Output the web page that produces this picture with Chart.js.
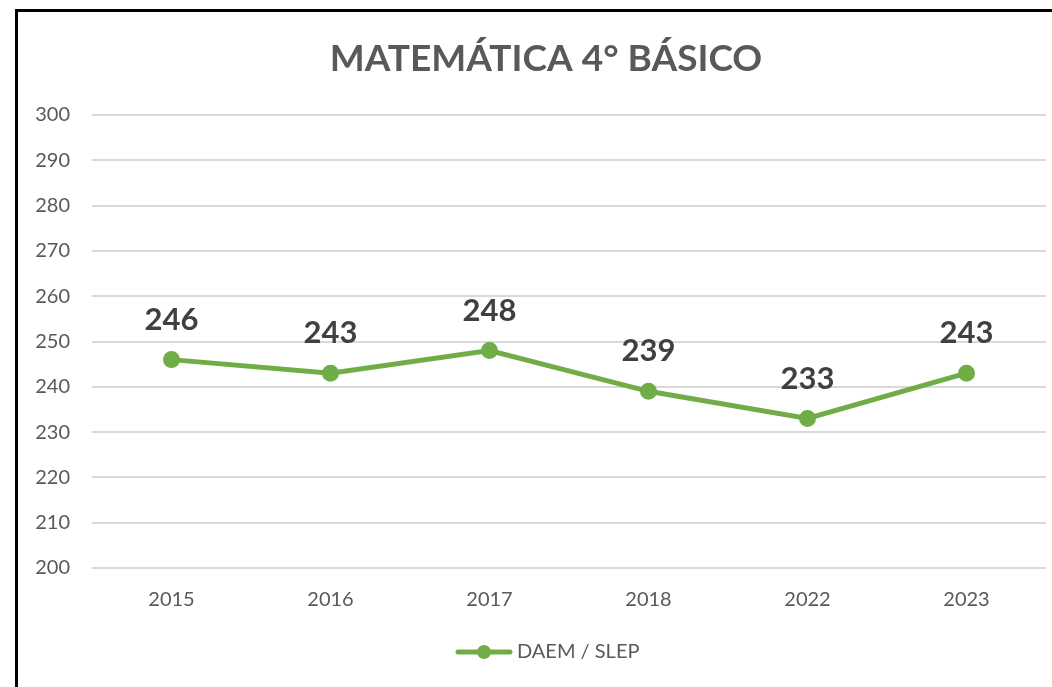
<!DOCTYPE html>
<html>
<head>
<meta charset="utf-8">
<script src="https://cdn.jsdelivr.net/npm/chart.js@4.4.1/dist/chart.umd.min.js"></script>
<style>
  body { margin: 0; background: #ffffff; }
  #wrap { position: absolute; left: 0; top: 0; width: 1052px; height: 687px; }
  #frame {
    position: absolute; left: 15px; top: 9px; width: 1100px; height: 700px;
    border-left: 3px solid #000; border-top: 3px solid #000;
  }
</style>
</head>
<body>
<div id="wrap">
  <div id="frame"></div>
  <canvas id="mathChart" width="1052" height="687"></canvas>
</div>
<script>
/* ==========================================
   DATA
========================================== */

const years = ["2015", "2016", "2017", "2018", "2022", "2023"];
const scores = [246, 243, 248, 239, 233, 243];
const seriesName = "DAEM / SLEP";
const chartTitle = "MATEMÁTICA 4° BÁSICO";

const green = "#70ad47";
const grey = "#595959";
const fontName = "Lato, 'Open Sans', sans-serif";


/* ==========================================
   TITLE, VALUE LABELS AND LEGEND
   (drawn by hand so they sit where the original does)
========================================== */

const extras = {
    id: "extras",
    afterDraw(chart) {
        const ctx = chart.ctx;
        const meta = chart.getDatasetMeta(0);
        ctx.save();

        // title
        ctx.font = "bold 37px " + fontName;
        ctx.fillStyle = grey;
        ctx.textAlign = "center";
        ctx.textBaseline = "middle";
        ctx.fillText(chartTitle, 546, 59);

        // value labels above each point
        ctx.font = "bold 31px " + fontName;
        ctx.fillStyle = "#404040";
        meta.data.forEach((pt, i) => {
            ctx.fillText(String(scores[i]), pt.x, pt.y - 40);
        });

        // legend: line with dot + series name
        const ly = 652;
        ctx.strokeStyle = green;
        ctx.lineWidth = 5;
        ctx.lineCap = "round";
        ctx.beginPath();
        ctx.moveTo(458, ly);
        ctx.lineTo(510, ly);
        ctx.stroke();
        ctx.fillStyle = green;
        ctx.beginPath();
        ctx.arc(484, ly, 7, 0, Math.PI * 2);
        ctx.fill();

        ctx.font = "20px " + fontName;
        ctx.fillStyle = grey;
        ctx.textAlign = "left";
        ctx.fillText(seriesName, 517, ly);

        ctx.restore();
    }
};


/* ==========================================
   LINE CHART
========================================== */

new Chart(document.getElementById("mathChart"), {

    type: "line",

    data: {
        labels: years,
        datasets: [{
            label: seriesName,
            data: scores,
            borderColor: green,
            backgroundColor: green,
            borderWidth: 5,
            pointRadius: 6,
            pointBackgroundColor: green,
            pointBorderColor: green,
            tension: 0
        }]
    },

    options: {
        responsive: false,
        animation: false,
        layout: {
            autoPadding: false,
            padding: { left: 0, right: 6, top: 115, bottom: 55 }
        },
        plugins: {
            title: { display: false },
            legend: { display: false },
            tooltip: { enabled: false }
        },
        scales: {
            x: {
                offset: true,
                grid: { display: false, drawTicks: false },
                border: { display: false },
                ticks: {
                    color: grey,
                    font: { family: fontName, size: 20 },
                    padding: 20
                },
                afterFit(axis) {
                    axis.height = 64;
                    axis.paddingLeft = 0;
                    axis.paddingRight = 0;
                }
            },
            y: {
                min: 200,
                max: 300,
                grid: { color: "#d9d9d9", lineWidth: 2, drawTicks: false },
                border: { display: false },
                ticks: {
                    stepSize: 10,
                    color: grey,
                    font: { family: fontName, size: 20 },
                    padding: 22
                },
                afterFit(axis) { axis.width = 92; }
            }
        }
    },

    plugins: [extras]

});
</script>
</body>
</html>
